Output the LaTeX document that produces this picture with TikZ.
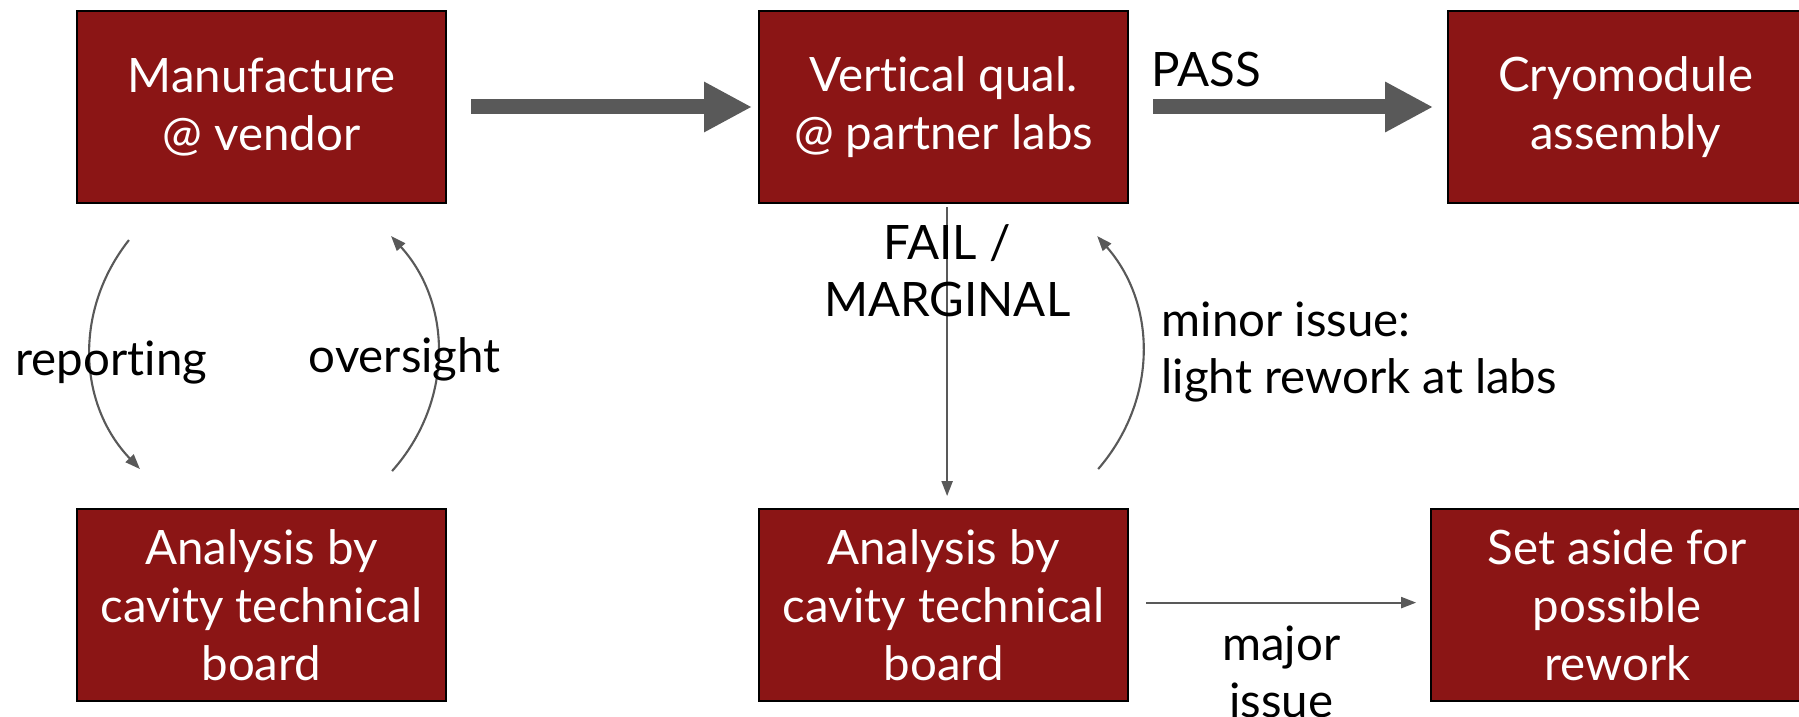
\documentclass[tikz,border=0pt]{standalone}
\usepackage{fontspec}
\setmainfont{Lato}[Ligatures=NoCommon]
\usetikzlibrary{arrows.meta,positioning}
\definecolor{cavred}{HTML}{8B1515}
\definecolor{flowgray}{HTML}{595959}
\tikzset{
  stage/.style={draw=black,line width=0.6pt,fill=cavred,text=white,align=center,inner sep=2pt,font=\fontsize{13.5}{16.4}\selectfont,minimum width=36.9mm,minimum height=19.2mm},
  bigar/.style={-{Triangle[length=4.8mm,width=4.7mm]},draw=flowgray,line width=1.5mm},
  ar/.style={-{Triangle[length=1.5mm,width=1.1mm]},draw=flowgray,line width=0.6pt},
  lbl/.style={font=\fontsize{13.5}{16.2}\selectfont,inner sep=0pt,text=black},
}

\begin{document}
\begin{tikzpicture}[node distance=30.4mm and 31.1mm]
  \useasboundingbox (-2.615,1.07) rectangle (15.375,-6.09);
  \node[stage] (make) {Manufacture\\@ vendor};
  \node[stage,right=of make] (vtest) {Vertical qual.\\@ partner labs};
  \node[stage,right=31.8mm of vtest,minimum width=35.5mm] (cryo) {Cryomodule\\assembly};
  \node[stage,below=of make] (ctbA) {Analysis by\\cavity technical\\board};
  \node[stage,below=of vtest] (ctbB) {Analysis by\\cavity technical\\board};
  \node[stage,right=30.1mm of ctbB,minimum width=37.2mm] (aside) {Set aside for\\possible\\rework};

  % main flow
  \draw[bigar] ([xshift=2.4mm]make.east) -- ([xshift=-0.6mm]vtest.west);
  \draw[bigar] ([xshift=2.4mm]vtest.east) -- node[lbl,anchor=base west,pos=0,yshift=2mm,xshift=-0.9mm]{PASS} ([xshift=-1.4mm]cryo.west);

  % vendor loop
  \draw[ar] ([xshift=5.3mm,yshift=-3.6mm]make.south west) to[bend right=41] node[lbl,xshift=2.1mm,yshift=-0.6mm]{reporting} ([xshift=6.4mm,yshift=3.9mm]ctbA.north west);
  \draw[ar] ([xshift=-5.5mm,yshift=3.7mm]ctbA.north east) to[bend right=42] node[lbl,xshift=-3.3mm,yshift=-0.6mm]{oversight} ([xshift=-5.6mm,yshift=-3.2mm]make.south east);

  % qualification outcomes
  \draw[ar] ([xshift=0.35mm,yshift=-0.3mm]vtest.south) -- node[lbl,pos=0.22,align=center]{FAIL /\\MARGINAL} ([xshift=0.35mm,yshift=1.2mm]ctbB.north);
  \draw[ar] ([xshift=-3.1mm,yshift=3.9mm]ctbB.north east) to[bend right=41] node[lbl,right,align=left,xshift=1.8mm]{minor issue:\\light rework at labs} ([xshift=-3.2mm,yshift=-3.2mm]vtest.south east);
  \draw[ar] ([xshift=1.7mm,yshift=0.25mm]ctbB.east) -- node[lbl,below=2.2mm,align=center]{major\\issue} ([xshift=-1.4mm,yshift=0.25mm]aside.west);
\end{tikzpicture}
\end{document}
